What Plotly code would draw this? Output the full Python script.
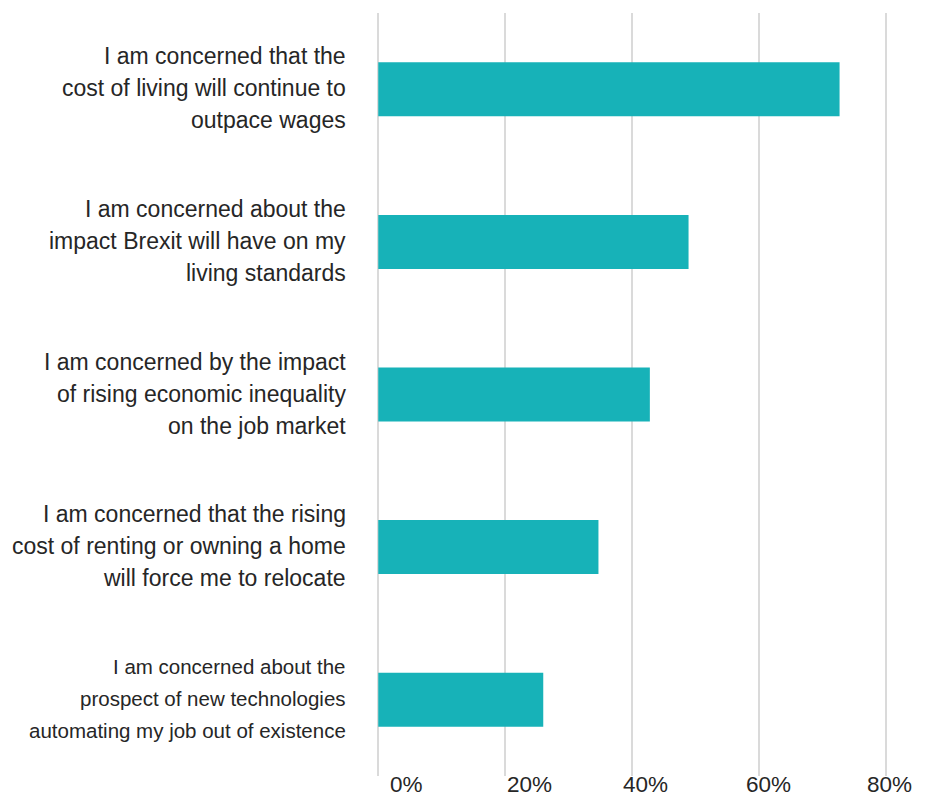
import plotly.graph_objects as go

categories = [
    "I am concerned that the<br>cost of living will continue to<br>outpace wages",
    "I am concerned about the<br>impact Brexit will have on my<br>living standards",
    "I am concerned by the impact<br>of rising economic inequality<br>on the job market",
    "I am concerned that the rising<br>cost of renting or owning a home<br>will force me to relocate",
    "I am concerned about the<br>prospect of new technologies<br>automating my job out of existence",
]
values = [72.7, 48.9, 42.8, 34.7, 26.0]
tick_vals = [0, 20, 40, 60, 80]
tick_text = ["0%", "20%", "40%", "60%", "80%"]
tick_label_x = [4.4, 23.8, 42.1, 61.5, 80.6]
label_sizes = [23, 23, 23, 23, 20.5]

BAR = "#17b2b8"
TXT = "#262626"
FONT = "Liberation Sans"
LINE_H = 32

fig = go.Figure(go.Bar(
    x=values, y=categories, orientation="h",
    marker=dict(color=BAR, line=dict(width=0)),
    width=0.354,
    hoverinfo="skip",
))

annotations = []
for cat, fs in zip(categories, label_sizes):
    lines = cat.split("<br>")
    n = len(lines)
    for i, ln in enumerate(lines):
        annotations.append(dict(
            text=ln, xref="paper", x=0, xanchor="right", xshift=-29,
            yref="y", y=cat, yanchor="middle", yshift=-(i - (n - 1) / 2) * LINE_H + 1,
            showarrow=False, font=dict(family=FONT, size=fs, color=TXT),
        ))
for xv, t in zip(tick_label_x, tick_text):
    annotations.append(dict(
        text=t, xref="x", x=xv, xanchor="center",
        yref="paper", y=0, yanchor="middle", yshift=-8, borderpad=0,
        showarrow=False, font=dict(family=FONT, size=22.5, color=TXT),
    ))

fig.update_layout(
    width=942, height=788,
    margin=dict(l=369, r=40, t=5, b=20),
    paper_bgcolor="white", plot_bgcolor="white",
    showlegend=False,
    xaxis=dict(range=[-0.2, 83.8], tickvals=tick_vals, showticklabels=False,
               showgrid=True, gridcolor="#dadada", gridwidth=2,
               zeroline=False, showline=False, fixedrange=True),
    yaxis=dict(categoryorder="array", categoryarray=categories, autorange="reversed",
               showticklabels=False, showgrid=False, zeroline=False, showline=False),
    annotations=annotations,
)

fig.write_html("out.html")
